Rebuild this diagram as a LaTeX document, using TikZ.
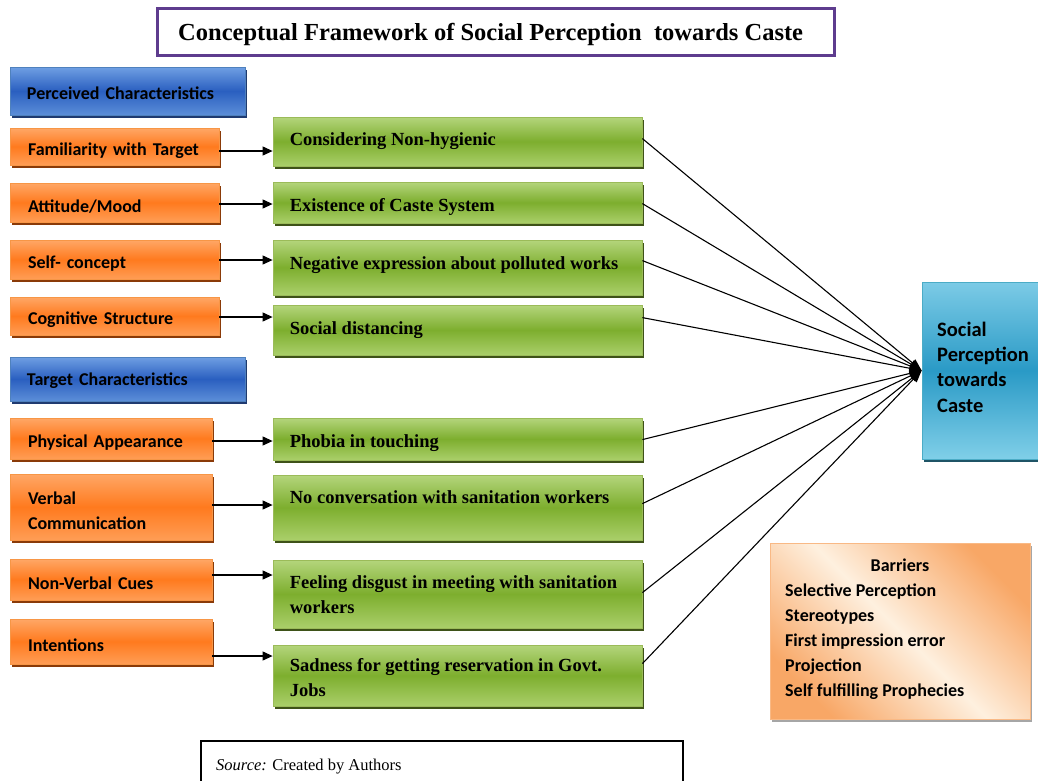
\documentclass[tikz,border=0pt]{standalone}
\usepackage{fontspec}
\setmainfont{Liberation Serif}
\newfontfamily\calfont{Carlito}
\usetikzlibrary{shadows,arrows.meta,calc}
\definecolor{orT}{HTML}{FFA766}
\definecolor{orM}{HTML}{FF7A1E}
\definecolor{orB}{HTML}{FF9D55}
\definecolor{orD}{HTML}{F79646}
\definecolor{orS}{HTML}{8A3A08}
\definecolor{blT}{HTML}{6F9FE3}
\definecolor{blM}{HTML}{2A5FC0}
\definecolor{blB}{HTML}{5C8ED8}
\definecolor{blD}{HTML}{4F81BD}
\definecolor{blS}{HTML}{1F3A70}
\definecolor{grT}{HTML}{B4D57C}
\definecolor{grM}{HTML}{7DAE2E}
\definecolor{grB}{HTML}{AACF6A}
\definecolor{grD}{HTML}{9BBB59}
\definecolor{grS}{HTML}{3E5218}
\definecolor{cyT}{HTML}{7CCBE6}
\definecolor{cyM}{HTML}{2A9AC6}
\definecolor{cyB}{HTML}{80CFE8}
\definecolor{cyD}{HTML}{4BACC6}
\definecolor{cyS}{HTML}{1F5466}
\definecolor{baO}{HTML}{F8A766}
\definecolor{baC}{HTML}{FEF0DF}
\definecolor{ttl}{HTML}{5E3C8E}
\begin{document}
\begin{tikzpicture}[x=1pt,y=-1pt,
  shbase/.style={drop shadow={shadow xshift=2pt,shadow yshift=-3pt,fill=#1,opacity=1}},
  obox/.style={draw=orD,line width=0.8pt,shbase=orS,top color=orT,bottom color=orB,middle color=orM,
     font=\calfont\bfseries\fontsize{18}{25}\selectfont,align=left,inner xsep=18pt,inner ysep=0pt,text width=#1,
     execute at begin node={\rule{0pt}{21pt}}},
  bbox/.style={draw=blD,line width=0.8pt,shbase=blS,top color=blT,bottom color=blB,middle color=blM,
     font=\calfont\bfseries\fontsize{18}{25}\selectfont,align=left,inner xsep=17pt,inner ysep=0pt,text width=201pt,
     execute at begin node={\rule{0pt}{17pt}}},
  gbox/.style={draw=grD,line width=0.8pt,shbase=grS,top color=grT,bottom color=grB,middle color=grM,
     minimum width=369pt,inner sep=0pt},
  gtext/.style={anchor=north west,inner sep=0pt,align=left,font=\bfseries\fontsize{18.5}{24.5}\selectfont},
  cbox/.style={draw=cyD,line width=0.8pt,shbase=cyS,top color=cyT,bottom color=cyB,middle color=cyM,inner sep=0pt},
  arr/.style={line width=1.1pt,-{Triangle[length=10pt,width=9pt]}},
  cline/.style={line width=1.1pt,-{Triangle[length=12pt,width=9pt]}}
]
\useasboundingbox (0,0) rectangle (1038,780);

% title
\node[draw=ttl,line width=3pt,fill=white,minimum width=677pt,minimum height=47pt] (title) at (496,32) {};
\node[anchor=west,inner sep=0pt,font=\bfseries\fontsize{24.5}{28}\selectfont] (titlet) at (178,34)
  {Conceptual Framework of Social Perception\ \ towards Caste};

% left column
\node[bbox,minimum height=48pt] (b1) at (127.5,91) {Perceived Characteristics};
\node[obox=173pt,minimum height=37pt] (o1) at (114.5,146.5) {Familiarity with Target};
\node[obox=173pt,minimum height=39pt] (o2) at (114.5,202.5) {Attitude/Mood};
\node[obox=173pt,minimum height=39pt] (o3) at (114.5,259.5) {Self- concept};
\node[obox=173pt,minimum height=38pt] (o4) at (114.5,316) {Cognitive Structure};
\node[bbox,minimum height=44pt] (b2) at (127.5,379) {Target Characteristics};
\node[obox=166pt,minimum height=41pt] (o5) at (111,438.5) {Physical Appearance};
\node[obox=166pt,minimum height=66pt] (o6) at (111,507) {Verbal\\Communication};
\node[obox=166pt,minimum height=41pt] (o7) at (111,579.5) {Non-Verbal Cues};
\node[obox=166pt,minimum height=45pt] (o8) at (111,641.5) {Intentions};

% green column
\node[gbox,minimum height=49pt] (g1) at (457.5,141.5) {};
\node[gbox,minimum height=41pt] (g2) at (457.5,202.5) {};
\node[gbox,minimum height=55pt] (g3) at (457.5,267.5) {};
\node[gbox,minimum height=50pt] (g4) at (457.5,330) {};
\node[gbox,minimum height=42pt] (g5) at (457.5,439) {};
\node[gbox,minimum height=65pt] (g6) at (457.5,507.5) {};
\node[gbox,minimum height=68pt] (g7) at (457.5,594) {};
\node[gbox,minimum height=61pt] (g8) at (457.5,675.5) {};
\node[gtext] (g1t) at ($(g1.north west)+(17,16)$) {Considering Non-hygienic};
\node[gtext] (g2t) at ($(g2.north west)+(17,17)$) {Existence of Caste System};
\node[gtext] (g3t) at ($(g3.north west)+(17,17)$) {Negative expression about polluted works};
\node[gtext] (g4t) at ($(g4.north west)+(17,17)$) {Social distancing};
\node[gtext] (g5t) at ($(g5.north west)+(17,17)$) {Phobia in touching};
\node[gtext] (g6t) at ($(g6.north west)+(17,16)$) {No conversation with sanitation workers};
\node[gtext] (g7t) at ($(g7.north west)+(17,16)$) {Feeling disgust in meeting with sanitation\\workers};
\node[gtext] (g8t) at ($(g8.north west)+(17,14)$) {Sadness for getting reservation in Govt.\\Jobs};

% arrows left -> green
\draw[arr] (o1.east) ++(0,4.5) coordinate (a1) -- (a1 -| g1.west);
\draw[arr] (o2.east) ++(0,1.5) coordinate (a2) -- (a2 -| g2.west);
\draw[arr] (o3.east) ++(0,0.5) coordinate (a3) -- (a3 -| g3.west);
\draw[arr] (o4.east) ++(0,1) coordinate (a4) -- (a4 -| g4.west);
\draw[arr] (o5.east) ++(0,2.5) coordinate (a5) -- (a5 -| g5.west);
\draw[arr] (o6.east) ++(0,-2) coordinate (a6) -- (a6 -| g6.west);
\draw[arr] (o7.east) ++(0,-4.5) coordinate (a7) -- (a7 -| g7.west);
\draw[arr] (o8.east) ++(0,14.5) coordinate (a8) -- (a8 -| g8.west);

% result box
\node[cbox,minimum width=120pt,minimum height=177pt] (cy) at (982,370.5) {};
\node[anchor=west,inner sep=0pt,align=left,font=\calfont\bfseries\fontsize{20.5}{25.3}\selectfont] (cyt) at (937,367)
  {Social\\Perception\\towards\\Caste};

% converging lines
\draw[cline] ($(g1.north east)+(0,22)$) -- (cy.west);
\draw[cline] ($(g2.north east)+(0,22)$) -- (cy.west);
\draw[cline] ($(g3.north east)+(0,21)$) -- (cy.west);
\draw[cline] ($(g4.north east)+(0,13)$) -- (cy.west);
\draw[cline] ($(g5.north east)+(0,22)$) -- (cy.west);
\draw[cline] ($(g6.north east)+(0,29)$) -- (cy.west);
\draw[cline] ($(g7.north east)+(0,33)$) -- (cy.west);
\draw[cline] ($(g8.north east)+(0,19)$) -- (cy.west);

% barriers
\node[draw=baO!80,line width=0.6pt,drop shadow={shadow xshift=2pt,shadow yshift=-3pt,fill=black!35,opacity=1},
  shading=axis,top color=baO,bottom color=baO,middle color=baC,shading angle=-45,
  minimum width=260pt,minimum height=176pt,inner sep=0pt] (bar) at (900,631) {};
\node[inner sep=0pt,font=\calfont\bfseries\fontsize{18}{25}\selectfont] (bart) at (900,565) {Barriers};
\node[anchor=west,inner sep=0pt,align=left,font=\calfont\bfseries\fontsize{18}{25}\selectfont] (barl) at (785,642)
  {Selective Perception\\Stereotypes\\First impression error\\Projection\\Self fulfilling Prophecies};

% source
\node[draw,line width=1.2pt,minimum width=482pt,minimum height=60pt,inner sep=0pt] (src) at (442,771) {};
\node[anchor=west,inner sep=0pt,font=\fontsize{16.5}{18}\selectfont] (srct) at (216,767) {\textit{Source:} Created by Authors};
\end{tikzpicture}
\end{document}
